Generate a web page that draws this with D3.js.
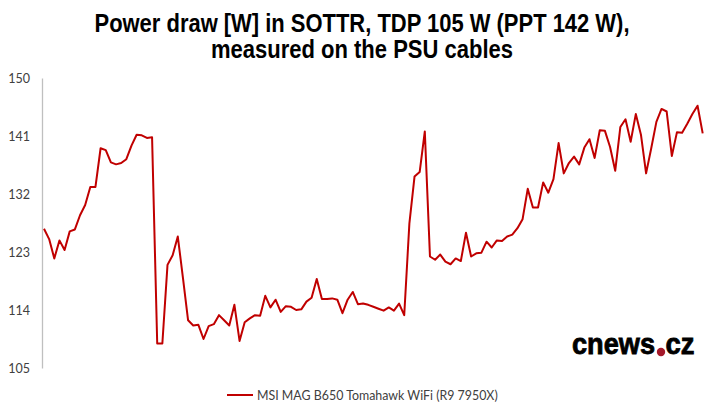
<!DOCTYPE html>
<html><head><meta charset="utf-8">
<script src="https://cdn.jsdelivr.net/npm/d3@7"></script>
<style>body{margin:0;background:#fff}svg{display:block}</style>
</head><body>
<svg id="c" width="720" height="416"></svg>
<script>
const titleLines = ["Power draw [W] in SOTTR, TDP 105 W (PPT 142 W),", "measured on the PSU cables"];
const titleWidths = [535, 302];
const seriesName = "MSI MAG B650 Tomahawk WiFi (R9 7950X)";
const yTicks = [105, 114, 123, 132, 141, 150];
const values = [
  126.6, 125.0, 122.0, 124.8, 123.3, 126.2, 126.5, 128.7, 130.3, 133.1, 133.1, 139.1, 138.8, 136.9, 136.6, 136.8, 137.4, 139.5, 141.2, 141.1, 140.7, 140.8,
  108.8, 108.8, 121.0, 122.5, 125.4, 119.0, 112.4, 111.6, 111.7, 109.5, 111.5, 111.8, 113.2, 112.4, 111.6, 114.8, 109.2, 112.1, 112.7, 113.2,
  113.1, 116.2, 114.4, 115.6, 113.7, 114.6, 114.5, 114.0, 114.1, 115.3, 115.9, 118.8, 115.7, 115.7, 115.8, 115.6, 113.5, 115.6, 116.8, 114.9, 115.0,
  114.8, 114.5, 114.2, 113.9, 114.4, 113.9, 115.0, 113.2, 127.4, 134.7, 135.4, 141.7, 122.3, 121.8, 122.6, 121.5, 121.1, 122.0, 121.6, 126.0,
  122.3, 122.8, 122.9, 124.6, 123.7, 124.8, 124.7, 125.4, 125.7, 126.7, 128.1, 132.8, 129.9, 129.9, 133.8, 132.2, 134.3, 139.9, 135.2, 136.8,
  137.8, 136.6, 139.2, 140.5, 137.6, 141.9, 141.8, 139.3, 135.6, 142.4, 143.6, 140.1, 144.4, 141.2, 135.2, 139.1, 143.2, 145.2, 144.8, 137.9, 141.6, 141.5, 142.9, 144.4, 145.7, 141.4
];

const svg = d3.select("#c");
const x = d3.scaleLinear().domain([0, values.length - 1]).range([44, 702.7]);
const y = d3.scaleLinear().domain([105, 150]).range([368, 78]);

// title
svg.append("g").selectAll("text").data(titleLines).join("text")
  .attr("x", 362).attr("y", (d, i) => 32 + i * 26)
  .attr("text-anchor", "middle")
  .attr("textLength", (d, i) => titleWidths[i]).attr("lengthAdjust", "spacingAndGlyphs")
  .style("font-family", "'Liberation Sans Narrow', 'Arial Narrow', 'Liberation Sans', sans-serif")
  .style("font-weight", "bold").style("font-size", "25px").attr("fill", "#000")
  .text(d => d);

// y axis
const yAxis = d3.axisLeft(y).tickValues(yTicks).tickSize(0).tickPadding(12);
const gy = svg.append("g").attr("transform", "translate(42,0)").call(yAxis);
gy.select(".domain").attr("stroke", "#bfbfbf").attr("stroke-width", 1.3);
gy.selectAll("text").style("font-family", "Lato, 'Open Sans', sans-serif").style("font-size", "12.5px").attr("fill", "#404040");

// line
svg.append("path").datum(values)
  .attr("fill", "none").attr("stroke", "#C00000").attr("stroke-width", 2).attr("stroke-linejoin", "round")
  .attr("d", d3.line().x((d, i) => x(i)).y(d => y(d)));

// legend
const lg = svg.append("g");
lg.append("line").attr("x1", 227).attr("x2", 253).attr("y1", 395).attr("y2", 395)
  .attr("stroke", "#C00000").attr("stroke-width", 2);
lg.append("text").attr("x", 257).attr("y", 399.5)
  .style("font-family", "Lato, 'Open Sans', sans-serif").style("font-size", "12.4px").attr("fill", "#404040")
  .text(seriesName);

// logo
const logo = svg.append("g");
logo.append("text").attr("x", 572).attr("y", 354)
  .style("font-family", "'Liberation Sans', Arial, sans-serif").style("font-weight", "bold").style("font-size", "29px")
  .attr("stroke", "#000").attr("stroke-width", 0.8)
  .attr("textLength", 83).attr("lengthAdjust", "spacingAndGlyphs").attr("fill", "#000").text("cnews");
logo.append("circle").attr("cx", 661).attr("cy", 352).attr("r", 4.2).attr("fill", "#a5192a");
logo.append("text").attr("x", 665.5).attr("y", 354)
  .style("font-family", "'Liberation Sans', Arial, sans-serif").style("font-weight", "bold").style("font-size", "29px")
  .attr("stroke", "#000").attr("stroke-width", 0.8)
  .attr("textLength", 29).attr("lengthAdjust", "spacingAndGlyphs").attr("fill", "#000").text("cz");
</script>
</body></html>
